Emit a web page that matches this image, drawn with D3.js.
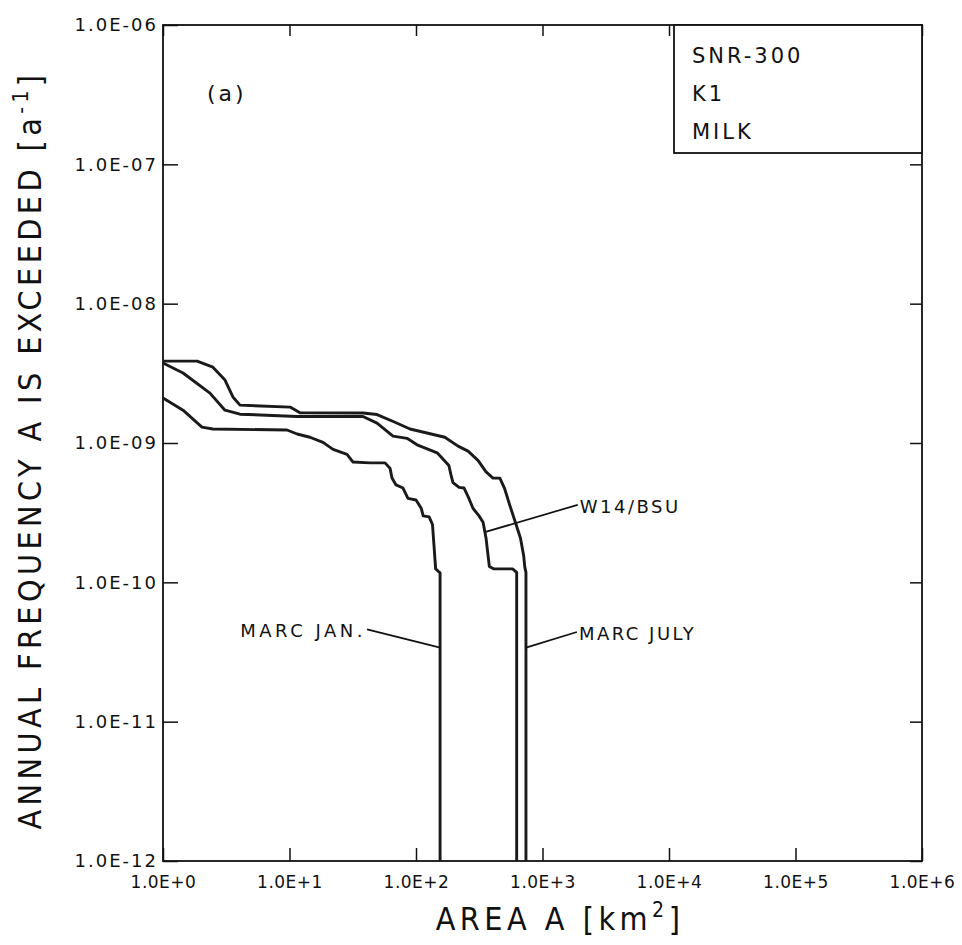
<!DOCTYPE html>
<html>
<head>
<meta charset="utf-8">
<style>
    body { margin: 0; background: #fff; }
    svg { font-family: 'DejaVu Sans', sans-serif; }
</style>
</head>
<body>
<svg width="962" height="945"></svg>
<script src="https://d3js.org/d3.v7.min.js"></script>
<script>
    // tick values
    let areaTicks = [1, 10, 100, 1e3, 1e4, 1e5, 1e6]
    let freqTicks = [1e-12, 1e-11, 1e-10, 1e-9, 1e-8, 1e-7, 1e-6]

    // curves: [area km2, annual frequency]
    let marcJan = [[1, 2.10e-9], [1.44, 1.72e-9], [2.03, 1.30e-9], [2.48, 1.26e-9], [9.55, 1.24e-9],
        [11.5, 1.16e-9], [14.5, 1.10e-9], [18.4, 1.01e-9], [22.1, 9.0e-10], [28.5, 8.3e-10],
        [31.8, 7.3e-10], [43.3, 7.2e-10], [56.9, 7.2e-10], [62.3, 6.6e-10], [64.6, 5.6e-10],
        [69.5, 5.0e-10], [78.9, 4.75e-10], [86.4, 4.0e-10], [100, 3.9e-10], [110, 3.4e-10],
        [114, 3.0e-10], [127, 2.95e-10], [135, 2.6e-10], [143, 1.25e-10], [150, 1.2e-10],
        [155, 1.17e-10], [155, 1e-12]]

    let w14 = [[1, 3.75e-9], [1.44, 3.18e-9], [2.35, 2.28e-9], [3.09, 1.72e-9], [4.06, 1.61e-9],
        [11.5, 1.55e-9], [38.1, 1.55e-9], [49.2, 1.39e-9], [65.8, 1.12e-9], [84.9, 1.08e-9],
        [102, 9.7e-10], [147, 8.5e-10], [182, 6.9e-10], [189, 5.9e-10], [196, 5.2e-10],
        [219, 4.8e-10], [240, 4.75e-10], [262, 4.0e-10], [282, 3.4e-10], [315, 3.0e-10],
        [339, 2.7e-10], [358, 2.07e-10], [380, 1.3e-10], [410, 1.25e-10], [580, 1.25e-10],
        [625, 1.18e-10], [625, 1e-12]]

    let marcJuly = [[1, 3.87e-9], [1.86, 3.87e-9], [2.48, 3.5e-9], [3.09, 2.83e-9], [3.57, 2.14e-9],
        [4.06, 1.87e-9], [10.1, 1.81e-9], [12.1, 1.65e-9], [38.1, 1.64e-9], [49.2, 1.6e-9],
        [68.2, 1.41e-9], [89.7, 1.26e-9], [122, 1.18e-9], [169, 1.1e-9], [215, 9.5e-10],
        [258, 8.75e-10], [309, 7.5e-10], [358, 6.2e-10], [406, 5.6e-10], [460, 5.6e-10],
        [500, 4.75e-10], [550, 3.6e-10], [610, 2.7e-10], [670, 2.07e-10], [710, 1.55e-10],
        [725, 1.28e-10], [740, 1.18e-10], [740, 1e-12]]

    // labels: anchor on curve, end of leader line
    let curveLabels = [
        { text: "MARC JAN.", anchor: [155, 3.4e-11], end: [41, 4.6e-11], side: "end", spacing: 3.5 },
        { text: "W14/BSU", anchor: [355, 2.3e-10], end: [1900, 3.6e-10], side: "start", spacing: 2.5 },
        { text: "MARC JULY", anchor: [740, 3.4e-11], end: [1870, 4.4e-11], side: "start", spacing: 2.5 }
    ]
    let boxLines = ["SNR-300", "K1", "MILK"]

    let svg = d3.select("svg")
    let mLeft = 163, mRight = 922, mTop = 25, mBottom = 861

    let x = d3.scaleLog().domain([1, 1e6]).range([mLeft, mRight])
    let y = d3.scaleLog().domain([1e-12, 1e-6]).range([mBottom, mTop])

    let pow = d => Math.round(Math.log10(d))
    let fmtX = d => "1.0E+" + pow(d)
    let fmtY = d => "1.0E-" + String(-pow(d)).padStart(2, "0")

    // frame
    svg.append("rect")
        .attr("x", mLeft).attr("y", mTop)
        .attr("width", mRight - mLeft).attr("height", mBottom - mTop)
        .style("fill", "none").style("stroke", "#111").style("stroke-width", 1.8)

    let gx = svg.append("g")
        .attr("transform", `translate(0,${mBottom})`)
        .call(d3.axisBottom(x).tickValues(areaTicks).tickFormat(fmtX).tickSizeInner(-13).tickSizeOuter(0).tickPadding(15))
    let gy = svg.append("g")
        .attr("transform", `translate(${mLeft},0)`)
        .call(d3.axisLeft(y).tickValues(freqTicks).tickFormat(fmtY).tickSizeInner(-15).tickSizeOuter(0).tickPadding(5))
    svg.append("g")
        .attr("transform", `translate(${mRight},0)`)
        .call(d3.axisRight(y).tickValues(freqTicks).tickFormat("").tickSizeInner(-12).tickSizeOuter(0))
    svg.append("g")
        .attr("transform", `translate(0,${mTop})`)
        .call(d3.axisTop(x).tickValues(areaTicks).tickFormat("").tickSizeInner(-11).tickSizeOuter(0))

    svg.selectAll(".domain").remove()
    svg.selectAll(".tick line").style("stroke", "#111").style("stroke-width", 1.5)
    svg.selectAll(".tick text")
        .style("font-family", "'DejaVu Sans', sans-serif")
        .style("font-size", "18px").style("letter-spacing", "2px").style("fill", "#111")
    gx.selectAll(".tick text").style("font-size", "17px").style("letter-spacing", "0.5px")

    // curves
    let line = d3.line().x(d => x(d[0])).y(d => y(d[1]))
    svg.selectAll(".curve")
        .data([marcJan, w14, marcJuly])
        .join("path")
        .attr("class", "curve")
        .attr("d", line)
        .style("fill", "none")
        .style("stroke", "#1a1a1a")
        .style("stroke-width", 2.9)
        .style("stroke-linejoin", "round")

    // leader lines + labels
    svg.selectAll(".leader")
        .data(curveLabels)
        .join("line")
        .attr("class", "leader")
        .attr("x1", d => x(d.anchor[0])).attr("y1", d => y(d.anchor[1]))
        .attr("x2", d => x(d.end[0])).attr("y2", d => y(d.end[1]))
        .style("stroke", "#111").style("stroke-width", 1.7)

    svg.selectAll(".clabel")
        .data(curveLabels)
        .join("text")
        .attr("class", "clabel")
        .attr("x", d => x(d.end[0]) + (d.side == "start" ? 2 : -1))
        .attr("y", d => y(d.end[1]) + 8)
        .attr("text-anchor", d => d.side)
        .style("font-size", "18px").style("letter-spacing", d => d.spacing + "px").style("fill", "#111")
        .text(d => d.text)

    // (a)
    svg.append("text")
        .attr("x", 207).attr("y", 101)
        .style("font-size", "22px").style("letter-spacing", "3px").style("fill", "#111")
        .text("(a)")

    // info box top right
    svg.append("rect")
        .attr("x", 674).attr("y", mTop)
        .attr("width", mRight - 674).attr("height", 128)
        .style("fill", "#fff").style("stroke", "#111").style("stroke-width", 1.8)
    svg.selectAll(".boxline")
        .data(boxLines)
        .join("text")
        .attr("class", "boxline")
        .attr("x", 692)
        .attr("y", (d, i) => 63 + i * 38)
        .style("font-size", "21px").style("letter-spacing", "3px").style("fill", "#111")
        .text(d => d)

    // axis titles
    let xt = svg.append("text")
        .attr("x", 560).attr("y", 930)
        .attr("text-anchor", "middle")
        .style("font-family", "'DejaVu Sans Condensed', 'DejaVu Sans', sans-serif")
        .style("font-size", "32px").style("letter-spacing", "4.5px").style("fill", "#111")
    xt.append("tspan").text("AREA  A  [km")
    xt.append("tspan").attr("dy", -13).style("font-size", "21px").text("2")
    xt.append("tspan").attr("dy", 13).text("]")

    let yt = svg.append("text")
        .attr("transform", `translate(41,450) rotate(-90)`)
        .attr("text-anchor", "middle")
        .style("font-family", "'DejaVu Sans Condensed', 'DejaVu Sans', sans-serif")
        .style("font-size", "32px").style("letter-spacing", "4.4px").style("fill", "#111")
    yt.append("tspan").text("ANNUAL FREQUENCY A IS EXCEEDED  [a")
    yt.append("tspan").attr("dy", -13).style("font-size", "21px").text("-1")
    yt.append("tspan").attr("dy", 13).text("]")
</script>
</body>
</html>
